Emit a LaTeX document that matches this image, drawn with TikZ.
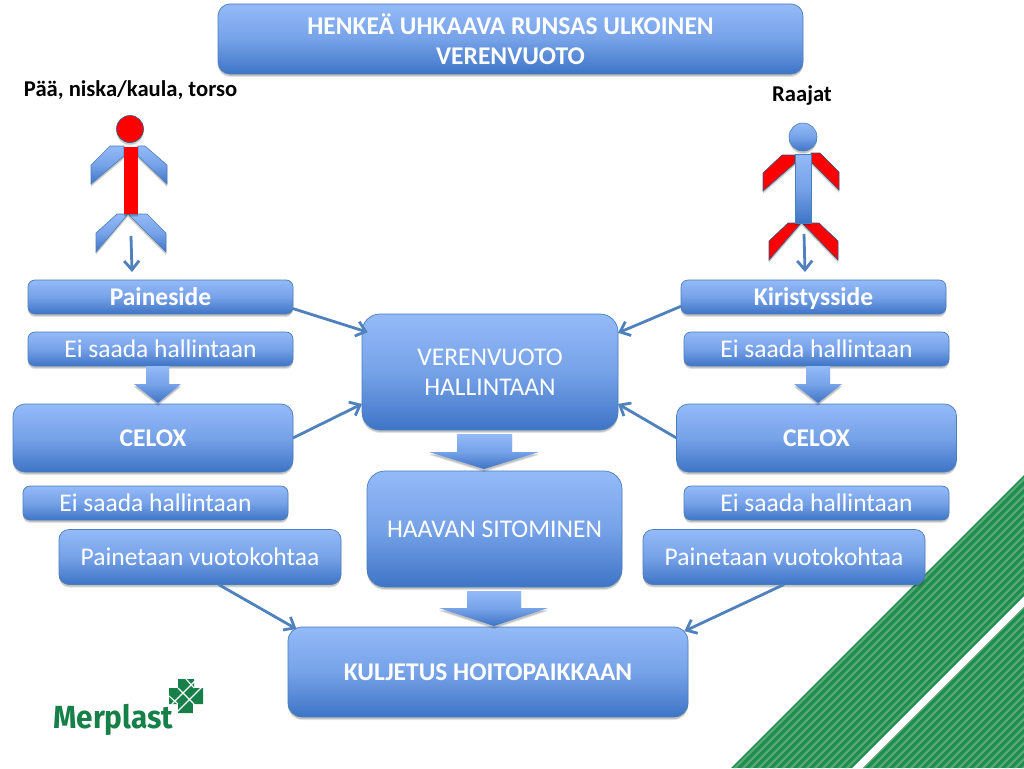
\documentclass[tikz,border=0pt]{standalone}
\usepackage{fontspec}
\setmainfont{Carlito}
\newfontfamily\logofont{Fira Sans}
\usetikzlibrary{arrows.meta,shadows,calc}
\definecolor{gtop}{RGB}{148,186,248}
\definecolor{gmid}{RGB}{118,162,232}
\definecolor{gbot}{RGB}{62,116,198}
\definecolor{edgeblue}{RGB}{74,126,187}
\definecolor{linkblue}{RGB}{79,129,189}
\definecolor{bandgreen}{RGB}{28,143,80}
\definecolor{stripegreen}{RGB}{90,165,115}
\definecolor{logogreen}{RGB}{22,128,72}
\definecolor{figred}{RGB}{255,0,0}
\tikzset{
  softshadow/.style={
    general shadow={shadow xshift=0pt,shadow yshift=-3pt,fill=black,opacity=.10},
    general shadow={shadow xshift=0pt,shadow yshift=-2pt,fill=black,opacity=.15}},
  gradfill/.style={top color=gtop,bottom color=gbot,middle color=gmid},
  box/.style={gradfill,draw=edgeblue,line width=.7pt,rounded corners=#1,softshadow,
    inner sep=0pt,outer sep=0pt,text=white,align=center,font=\fontsize{25.5}{30}\selectfont},
  box/.default=7pt,
  oneline/.style={text height=16pt,text depth=0pt},
  boldbox/.style={box=#1,oneline,font=\fontsize{25.5}{30}\selectfont\bfseries},
  boldbox/.default=7pt,
  link/.style={draw=linkblue,line width=2.8pt,-{Straight Barb[length=9pt,width=15pt,line width=2.8pt]}},
  limbblue/.style={gradfill,draw=edgeblue,line width=.6pt,softshadow},
  limbred/.style={fill=figred,draw=edgeblue!70!black,line width=.6pt,softshadow},
  blockarrow/.style={gradfill,softshadow},
  caption/.style={text=black,inner sep=0pt,font=\fontsize{22.6}{27}\selectfont\bfseries},
  stripe/.style={draw=stripegreen,line width=2.2pt},
  logoline/.style={draw=white,line width=1.1pt}
}
\begin{document}
\begin{tikzpicture}[x=1pt,y=-1pt]
\useasboundingbox (0,0) rectangle (1024,768);
\fill[white] (0,0) rectangle (1024,768);

% green diagonal bands
\begin{scope}
  \clip (1024,475) -- (1024,596) -- (852,768) -- (731,768) -- cycle;
  \fill[bandgreen] (700,450) rectangle (1024,768);
  \foreach \s in {1503,1511,...,1623} {\draw[stripe] (1034,\s-1034) -- (\s-778,778);}
\end{scope}
\begin{scope}
  \clip (1024,607) -- (1024,768) -- (863,768) -- cycle;
  \fill[bandgreen] (850,600) rectangle (1024,768);
  \foreach \s in {1631,1639,...,1799} {\draw[stripe] (1034,\s-1034) -- (\s-778,778);}
\end{scope}

% title and captions
\node[box=12pt,font=\fontsize{25.5}{30}\selectfont\bfseries,minimum width=585pt,minimum height=70pt] (title) at (510.5,39)
  {HENKEÄ UHKAAVA RUNSAS ULKOINEN\\VERENVUOTO};
\node[caption] (capL) at (130.5,90) {Pää, niska/kaula, torso};
\node[caption] (capR) at (802,95) {Raajat};

% left figure
\path[limbblue] (110,146) -- (124,146) -- (124,156) -- (91,184) -- (91,165) -- cycle;
\path[limbblue] (138,146) -- (145,146) -- (167,165) -- (167,184) -- (138,156) -- cycle;
\path[limbblue] (117,214) -- (128,214) -- (96,252) -- (96,233) -- cycle;
\path[limbblue] (128,214) -- (147,214) -- (166,233) -- (166,252) -- cycle;
\path[fill=figred,softshadow] (123.5,147) rectangle (138,214);
\path[limbred] (130,129) circle (13.5);
\coordinate (figLfoot) at (131,236);

% right figure
\path[limbred] (782,155) -- (795,155) -- (795,163) -- (763,191) -- (763,173) -- cycle;
\path[limbred] (811,153) -- (820,153) -- (839,172) -- (839,190) -- (811,162) -- cycle;
\path[limbred] (788,223) -- (801,223) -- (769,260) -- (769,241) -- cycle;
\path[limbred] (802,223) -- (819,223) -- (838,241) -- (838,260) -- cycle;
\path[limbblue] (795,154) rectangle (811,223);
\path[limbblue] (803,137) circle (14);
\coordinate (figRfoot) at (804,234);

% boxes
\node[boldbox,minimum width=265pt,minimum height=34pt] (pa) at (160.5,297) {Paineside};
\node[box,oneline,minimum width=265pt,minimum height=34pt] (eiA) at (160.5,349) {Ei saada hallintaan};
\node[boldbox=12pt,minimum width=280pt,minimum height=68pt] (ceL) at (153,438) {CELOX};
\node[box,oneline,minimum width=265pt,minimum height=34pt] (eiB) at (155.5,503) {Ei saada hallintaan};
\node[box=10pt,oneline,minimum width=282pt,minimum height=55pt] (prL) at (200,557) {Painetaan vuotokohtaa};
\node[box=18pt,minimum width=256pt,minimum height=116pt] (ver) at (490,372) {VERENVUOTO\\HALLINTAAN};
\node[box=18pt,oneline,minimum width=255pt,minimum height=116pt] (haa) at (494.5,529) {HAAVAN SITOMINEN};
\node[boldbox=14pt,minimum width=400pt,minimum height=90pt] (kul) at (488,672) {KULJETUS HOITOPAIKKAAN};
\node[boldbox,minimum width=265pt,minimum height=34pt] (ki) at (813.5,297) {Kiristysside};
\node[box,oneline,minimum width=265pt,minimum height=34pt] (eiC) at (816.5,349) {Ei saada hallintaan};
\node[boldbox=12pt,minimum width=280pt,minimum height=68pt] (ceR) at (816.5,438) {CELOX};
\node[box,oneline,minimum width=265pt,minimum height=34pt] (eiD) at (816.5,503) {Ei saada hallintaan};
\node[box=10pt,oneline,minimum width=282pt,minimum height=55pt] (prR) at (784,557) {Painetaan vuotokohtaa};

% block arrows
\path[blockarrow] (146,366) -- (169,366) -- (169,384) -- (181,384) -- (158,403) -- (134,384) -- (146,384) -- cycle;
\path[blockarrow] (806,366) -- (830,366) -- (830,384) -- (842,384) -- (818,403) -- (794,384) -- (806,384) -- cycle;
\path[blockarrow] (457,434) -- (512,434) -- (512,452) -- (539,452) -- (484,469) -- (429,452) -- (457,452) -- cycle;
\path[blockarrow] (467,591) -- (521,591) -- (521,608) -- (548,608) -- (494,626) -- (439,608) -- (467,608) -- cycle;

% connectors
\draw[link,shorten >=8pt] (figLfoot) -- (pa.149.2);
\draw[link,shorten >=8pt] (figRfoot) -- (ki.116.6);
\draw[link,shorten >=-6pt] (pa.-5.6) -- (ver.162.3);
\draw[link] (ki.184.3) -- (ver.17.4);
\draw[link] (ceL.east) -- (ver.194.3);
\draw[link] (ceR.west) -- (ver.-14);
\draw[link,shorten >=-4pt] (prL.-56.8) -- (kul.167.1);
\draw[link,shorten >=-4pt] (prR.south) -- (kul.12.9);

% logo
\node[inner sep=0pt,anchor=west,text=logogreen,xscale=.93] (logotext) at (53,720)
  {\logofont\fontsize{32}{36}\selectfont\bfseries Merplast};
\fill[logogreen] (178,679) -- (194,679) -- (194,688) -- (203,688) -- (203,704) -- (194,704) -- (194,713) -- (178,713) -- (178,704) -- (169,704) -- (169,688) -- (178,688) -- cycle;
\draw[logoline] (172,704) -- (195,681);
\draw[logoline] (177,712) -- (202,687);
\draw[logoline] (178,688) -- (186,696) -- (194,704);
\draw[logoline] (186,679) -- (194,688);
\draw[logoline] (169,696) -- (178,704);
\draw[logoline] (194,713) -- (194,704);
\end{tikzpicture}
\end{document}
